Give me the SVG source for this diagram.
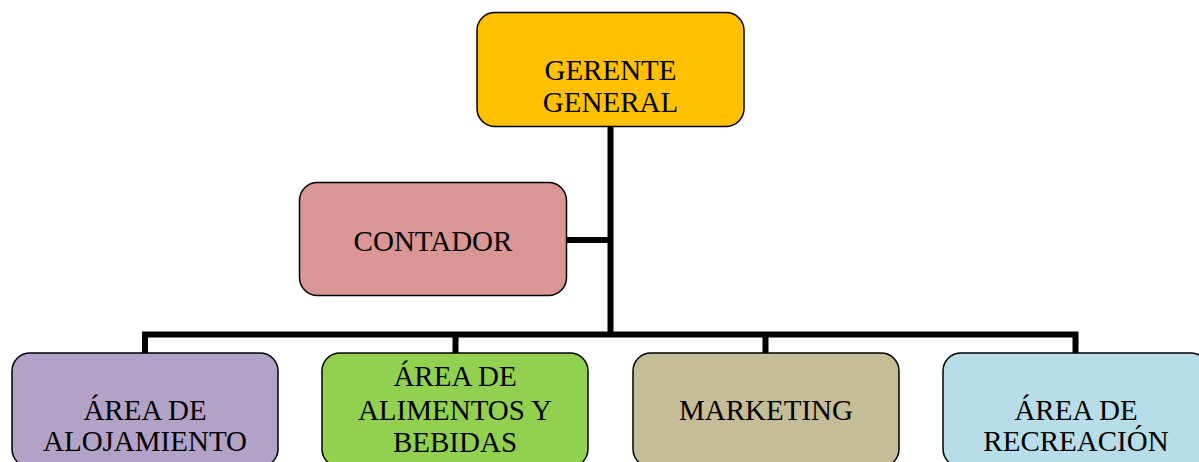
<svg xmlns="http://www.w3.org/2000/svg" width="1199" height="462" viewBox="0 0 1199 462">
<style>
.box{stroke:#000;stroke-width:1.5}
.t{font-family:"Liberation Serif","Times New Roman",serif;font-size:29px;fill:#000;text-anchor:middle}
.c{stroke:#000;stroke-width:6;fill:none}
</style>
<rect width="1199" height="462" fill="#fff"/>
<g id="connectors">
<line class="c" x1="610.5" y1="126" x2="610.5" y2="337"/>
<line class="c" x1="567" y1="240" x2="610.5" y2="240"/>
<polyline class="c" points="145,353 145,334.5 1075.5,334.5 1075.5,353"/>
<line class="c" x1="455.5" y1="334.5" x2="455.5" y2="353"/>
<line class="c" x1="765.5" y1="334.5" x2="765.5" y2="353"/>
</g>
<g id="gerente">
<rect class="box" x="477" y="12.5" width="267" height="114" rx="18" fill="#FFC000"/>
<text class="t" x="610.5" y="80">GERENTE</text>
<text class="t" x="610.5" y="112">GENERAL</text>
</g>
<g id="contador">
<rect class="box" x="299.5" y="182.5" width="267" height="113" rx="18" fill="#D99694"/>
<text class="t" x="433" y="251">CONTADOR</text>
</g>
<g id="alojamiento">
<rect class="box" x="12" y="353" width="266" height="114" rx="18" fill="#B2A2C7"/>
<text class="t" x="145" y="420">ÁREA DE</text>
<text class="t" x="145" y="451">ALOJAMIENTO</text>
</g>
<g id="alimentos">
<rect class="box" x="322" y="353" width="266" height="114" rx="18" fill="#92D050"/>
<text class="t" x="455" y="386">ÁREA DE</text>
<text class="t" x="455" y="420">ALIMENTOS Y</text>
<text class="t" x="455" y="452">BEBIDAS</text>
</g>
<g id="marketing">
<rect class="box" x="633" y="353" width="266" height="114" rx="18" fill="#C4BD97"/>
<text class="t" x="766" y="420">MARKETING</text>
</g>
<g id="recreacion">
<rect class="box" x="943" y="353" width="266" height="114" rx="18" fill="#B7DEE8"/>
<text class="t" x="1076" y="420">ÁREA DE</text>
<text class="t" x="1076" y="451">RECREACIÓN</text>
</g>
</svg>
